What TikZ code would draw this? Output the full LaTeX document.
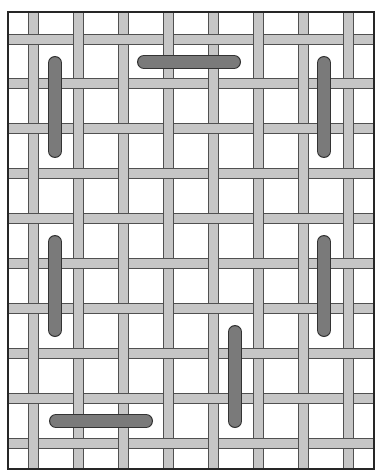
\documentclass[tikz,border=0pt]{standalone}
\begin{document}
\begin{tikzpicture}[x=1pt,y=-1pt,
  stripfill/.style={fill=stripc},
  stripedge/.style={draw=edgec,line width=0.8pt},
  barout/.style={draw=baredge,line width=14pt,line cap=round},
  barin/.style={draw=barc,line width=11.6pt,line cap=round}]
\definecolor{stripc}{HTML}{C6C6C6}
\definecolor{edgec}{HTML}{505050}
\definecolor{barc}{HTML}{7A7A7A}
\definecolor{baredge}{HTML}{333333}
\useasboundingbox (0,0) rectangle (384,473);
% horizontal strips
\foreach \j in {0,...,9}{
  \pgfmathsetmacro\yy{39+44.9*\j}
  \fill[stripfill] (8,\yy-5) rectangle (374,\yy+5);
  \draw[stripedge] (8,\yy-5) -- (374,\yy-5) (8,\yy+5) -- (374,\yy+5);
}
% vertical strips
\foreach \i in {0,...,7}{
  \pgfmathsetmacro\xx{33+45*\i}
  \fill[stripfill] (\xx-5,12) rectangle (\xx+5,469);
  \draw[stripedge] (\xx-5,12) -- (\xx-5,469) (\xx+5,12) -- (\xx+5,469);
}
% weave: horizontal over at alternate crossings
\foreach \i in {0,...,7}{
  \foreach \j in {0,...,9}{
    \pgfmathtruncatemacro\wpar{mod(\i+\j,2)}
    \ifnum\wpar=0
      \pgfmathsetmacro\xx{33+45*\i}
      \pgfmathsetmacro\yy{39+44.9*\j}
      \fill[stripfill] (\xx-5.5,\yy-4.6) rectangle (\xx+5.5,\yy+4.6);
      \draw[stripedge] (\xx-5.5,\yy-5) -- (\xx+5.5,\yy-5) (\xx-5.5,\yy+5) -- (\xx+5.5,\yy+5);
    \fi
  }
}
% border
\draw[draw=black!85,line width=1.6pt] (8,12) rectangle (374,469);
% bars
\foreach \a/\b/\c/\d in {55/63/55/151, 144/62/234/62, 324/63/324/151, 55/242/55/330, 324/242/324/330, 235/332/235/421, 56/421/146/421}{
  \draw[barout] (\a,\b) -- (\c,\d);
  \draw[barin] (\a,\b) -- (\c,\d);
}
\end{tikzpicture}
\end{document}
